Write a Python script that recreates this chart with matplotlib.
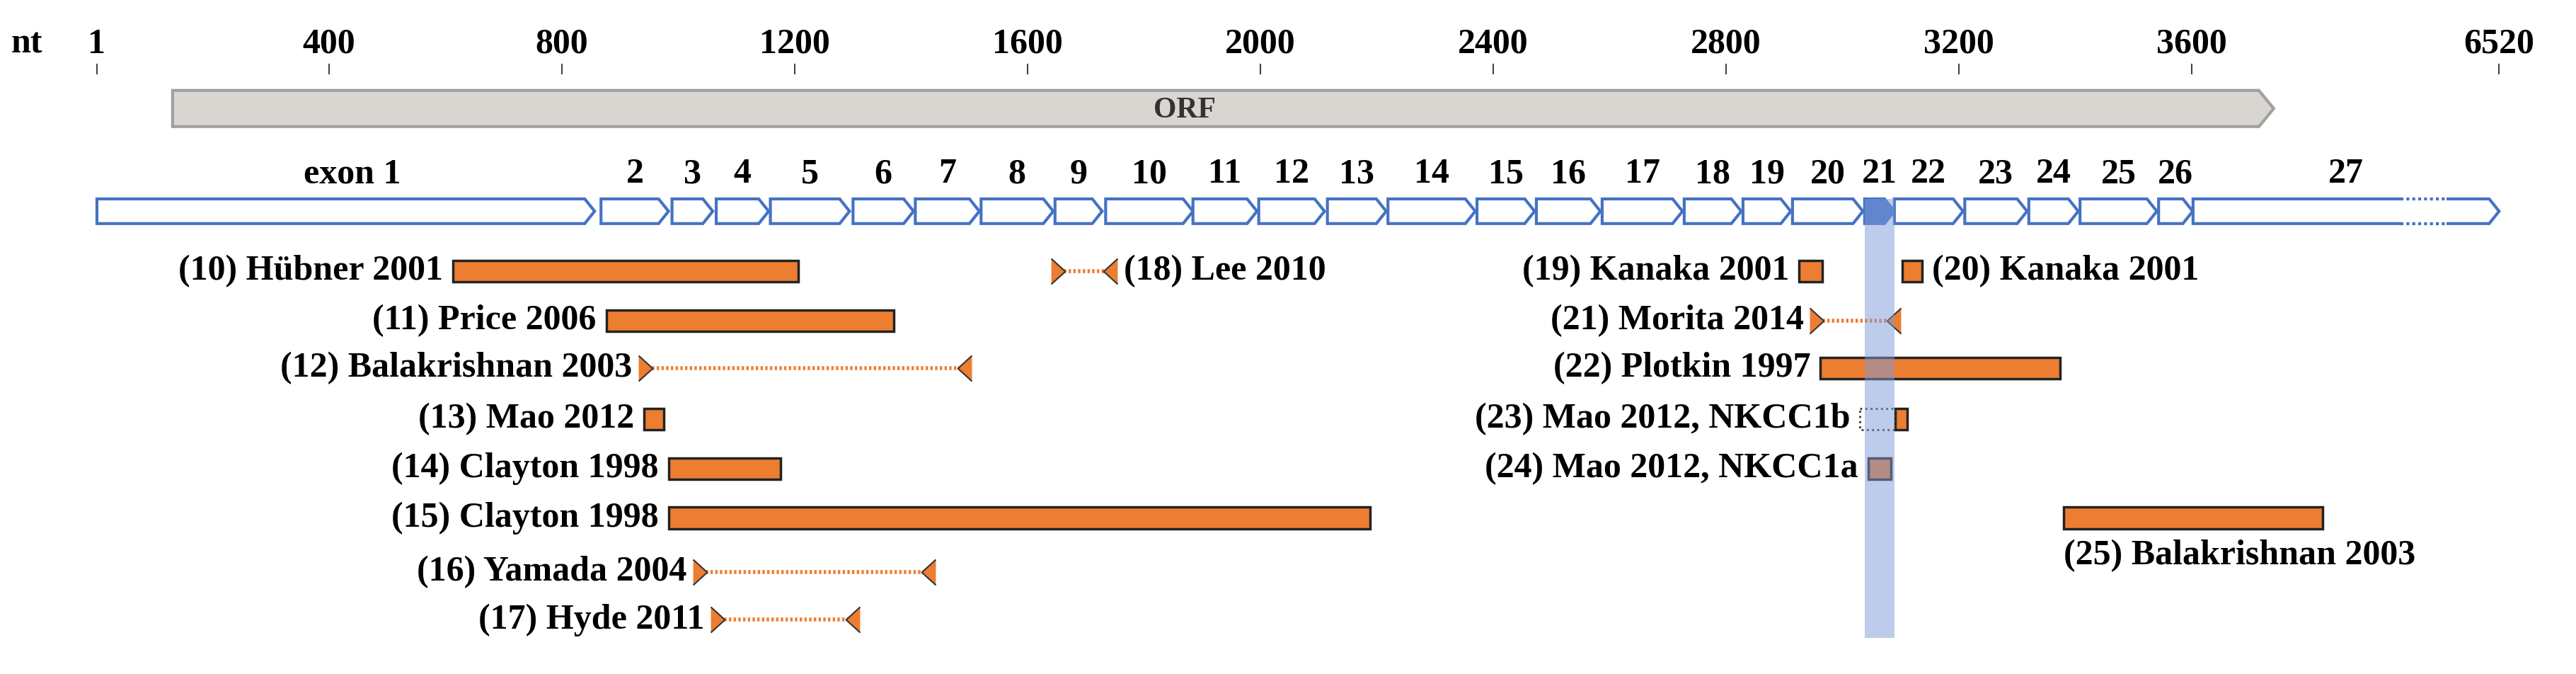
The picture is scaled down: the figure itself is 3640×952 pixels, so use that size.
import numpy as np
import matplotlib.pyplot as plt
from matplotlib.patches import Polygon, Rectangle

plt.rcParams['font.family'] = ['Liberation Serif', 'DejaVu Serif']
plt.rcParams['font.weight'] = 'bold'

# axis ticks (nt)
tick_nt = [1, 400, 800, 1200, 1600, 2000, 2400, 2800, 3200, 3600, 6520]

# exons: start, end (nt)
exon_names = ['exon 1'] + [str(i) for i in range(2, 28)]
exon_start = [1, 867, 989, 1065, 1158, 1300, 1407, 1520, 1647, 1734, 1884, 1997, 2115, 2219,
              2372, 2474, 2587, 2728, 2829, 2914, 3038, 3089, 3210, 3320, 3408, 3543, 3614]
exon_end = [856, 983, 1059, 1155, 1294, 1404, 1517, 1644, 1728, 1884, 1994, 2110, 2216, 2369,
            2471, 2584, 2725, 2826, 2911, 3035, 3089, 3207, 3317, 3405, 3540, 3611, 6520]
exon27_break = (5582, 6019)
orf = (131, 4380)

# studies: label, start, end, kind ('bar' = amplicon, 'primer' = primer pair)
study_labels = ['(10) Hübner 2001', '(11) Price 2006', '(12) Balakrishnan 2003', '(13) Mao 2012',
                '(14) Clayton 1998', '(15) Clayton 1998', '(16) Yamada 2004', '(17) Hyde 2011',
                '(18) Lee 2010', '(19) Kanaka 2001', '(20) Kanaka 2001', '(21) Morita 2014',
                '(22) Plotkin 1997', '(23) Mao 2012, NKCC1b', '(24) Mao 2012, NKCC1a',
                '(25) Balakrishnan 2003']
study_start = [613, 876, 938, 941, 983, 983, 1031, 1062, 1646, 2925, 3103, 2950, 2962, 3090, 3044, 3380]
study_end = [1206, 1370, 1497, 975, 1175, 2188, 1435, 1305, 1748, 2965, 3137, 3094, 3374, 3111, 3083, 4848]
study_kind = ['bar', 'bar', 'primer', 'bar', 'bar', 'bar', 'primer', 'primer', 'primer',
              'bar', 'bar', 'primer', 'bar', 'bar', 'bar', 'bar']
study_row = [0, 1, 2, 3, 4, 5, 6, 7, 0, 0, 0, 1, 2, 3, 4, 5]
label_side = ['left'] * 8 + ['right', 'left', 'right', 'left', 'left', 'left', 'left', 'below']
nkcc1b_skip = (3030, 3090)

# broken axis: linear up to 3600, compressed after
def fwd(x):
    x = np.asarray(x, dtype=float)
    return np.where(x <= 3600, 59 + (x - 1) * 0.3543, 1334 + (x - 3600) / 15.6)

def inv(p):
    p = np.asarray(p, dtype=float)
    return np.where(p <= 1334, (p - 59) / 0.3543 + 1, 3600 + (p - 1334) * 15.6)

fig = plt.figure(figsize=(36.4, 9.52), dpi=100)
ax = fig.add_axes([0, 0, 1, 1])
ax.set_xscale('function', functions=(fwd, inv))
ax.set_xlim(float(inv(0)), float(inv(1568)))
ax.set_ylim(410, 0)
ax.axis('off')

def shift(nt, px):
    return float(inv(fwd(nt) + px))

fs = 36
orange = '#ED7D31'
blue = '#4472C4'

# ticks
ax.text(-120, 27, 'nt', fontsize=fs, ha='center', va='center')
for t in tick_nt:
    ax.text(t, 27, str(t), fontsize=fs, ha='center', va='center')
    ax.plot([t, t], [39, 45], color='#444444', lw=1.5)

# ORF
tip = shift(orf[1], -9)
ax.add_patch(Polygon([(orf[0], 55), (tip, 55), (orf[1], 66), (tip, 77), (orf[0], 77)],
                     closed=True, facecolor='#D9D6D2', edgecolor='#A0A0A0', lw=3))
ax.text(1870, 67, 'ORF', fontsize=30, ha='center', va='center', color='#333333')

# exons
for i, (name, s, e) in enumerate(zip(exon_names, exon_start, exon_end)):
    t = shift(e, -6)
    fc = blue if name == '21' else 'white'
    ax.add_patch(Polygon([(s, 121), (t, 121), (e, 128.5), (t, 136), (s, 136)],
                         closed=True, facecolor=fc, edgecolor=blue, lw=3))
    cx = 440 if name == 'exon 1' else float(inv((fwd(s) + fwd(e)) / 2))
    ax.text(cx, 106, name, fontsize=fs, ha='center', va='center')
b0, b1 = exon27_break
ax.add_patch(Rectangle((b0, 118), b1 - b0, 21, facecolor='white', edgecolor='none', zorder=3))
for yy in (121, 136):
    ax.plot([b0, b1], [yy, yy], color=blue, lw=3, ls=(0, (1, 1)), zorder=4)

# highlight band over exon 21
ax.add_patch(Rectangle((exon_start[20], 121), exon_end[20] - exon_start[20], 267,
                       facecolor='#7F9AD9', alpha=0.5, edgecolor='none', zorder=5))

row_y = [165, 195, 224, 255, 285, 315, 348, 377]
tri = [(-0.55, -1), (0.55, 0), (-0.55, 1)]
tri_l = [(0.55, -1), (-0.55, 0), (0.55, 1)]
for lab, s, e, kind, r, side in zip(study_labels, study_start, study_end, study_kind, study_row, label_side):
    y = row_y[r]
    if kind == 'bar':
        ax.add_patch(Rectangle((s, y - 6.5), e - s, 13, facecolor=orange, edgecolor='#222222', lw=2.5, zorder=2))
    else:
        ax.plot([s, e], [y, y], color=orange, lw=4, ls=(0, (0.6, 0.6)), zorder=2)
        ax.plot([shift(s, 2)], [y], marker=tri, ms=26, color=orange, mec='#333333', mew=1.5, zorder=3)
        ax.plot([shift(e, -2)], [y], marker=tri_l, ms=26, color=orange, mec='#333333', mew=1.5, zorder=3)
    if lab.startswith('(23)'):
        ax.add_patch(Rectangle((nkcc1b_skip[0], y - 6.5), nkcc1b_skip[1] - nkcc1b_skip[0], 13,
                               facecolor='none', edgecolor='#333333', lw=2, ls=':', zorder=2))
        s = nkcc1b_skip[0]
    if side == 'left':
        ax.annotate(lab, (s, y), xytext=(-10, 0), textcoords='offset points', fontsize=fs, ha='right', va='center')
    elif side == 'right':
        ax.annotate(lab, (e, y), xytext=(10, 0), textcoords='offset points', fontsize=fs, ha='left', va='center')
    else:
        ax.text(s, y + 23, lab, fontsize=fs, ha='left', va='center')

fig.savefig('out.png', dpi=100, facecolor='white')
